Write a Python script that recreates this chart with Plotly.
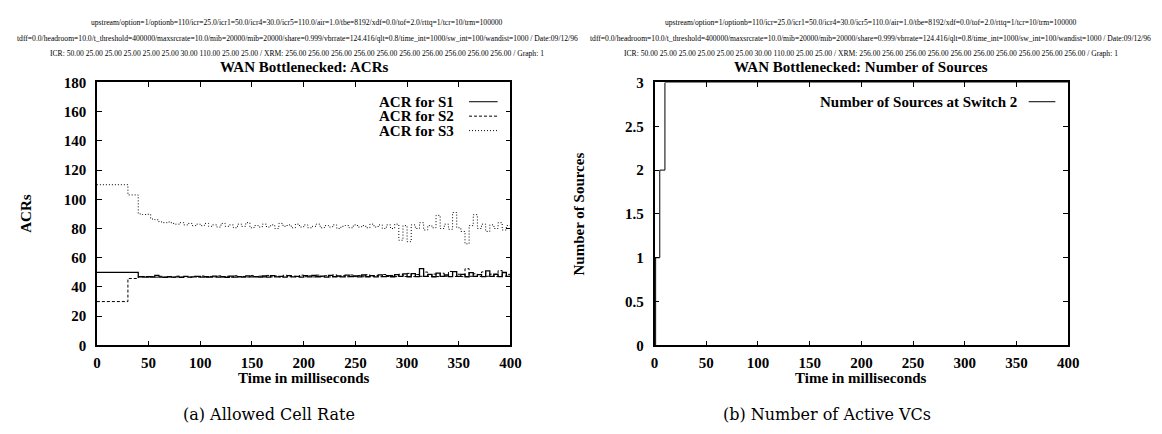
import plotly.graph_objects as go

W, H = 1162, 434

# ---------------- data ----------------
time_ms = [0, 30,
           40, 44, 48, 52, 56, 60, 64, 68, 72, 76,
           80, 84, 88, 92, 96, 100, 104, 108, 112, 116,
           120, 124, 128, 132, 136, 140, 144, 148, 152, 156,
           160, 164, 168, 172, 176, 180, 184, 188, 192, 196,
           200, 204, 208, 212, 216, 220, 224, 228, 232, 236,
           240, 244, 248, 252, 256, 260, 264, 268, 272, 276,
           280, 284, 288, 292, 296, 300, 304, 308, 312, 316,
           320, 324, 328, 332, 336, 340, 344, 348, 352, 356,
           360, 364, 368, 372, 376, 380, 384, 388, 392, 396,
           400]

acr_s1 = [50, 50,
          47, 46.8, 47, 46.7, 48, 46.8, 46.6, 47, 46.7, 46.9,
          46.6, 47.2, 46.7, 46.9, 47.3, 46.8, 47, 46.7, 47.4, 46.8,
          47, 46.6, 47.4, 46.8, 47.1, 46.7, 47.6, 46.9, 47.1, 46.7,
          47.5, 46.8, 47.7, 46.9, 47.2, 46.7, 47.8, 46.9, 47.3, 46.8,
          47.7, 46.9, 47.9, 47, 47.4, 46.8, 48, 47, 47.5, 46.9,
          48.1, 47.1, 47.6, 46.9, 48.2, 47, 47.7, 46.9, 48.3, 47.1,
          47.8, 47, 48.4, 47.2, 48.9, 47, 49.2, 47.1, 52.5, 47.2,
          48.6, 47, 49.5, 47.3, 48.2, 47.1, 50.5, 47.2, 48.6, 47,
          49.8, 47.3, 48.4, 47.1, 51, 47.2, 48.7, 47.1, 49.9, 47.3,
          48.2]

acr_s2 = [30, 45.8,
          47, 47.2, 46.8, 47.1, 46.7, 47.3, 46.8, 47, 46.6, 47.4,
          46.8, 47.1, 46.7, 47.3, 46.8, 47.5, 46.7, 47.2, 46.8, 47.6,
          46.9, 47.3, 46.7, 47.7, 46.9, 47.2, 46.8, 47.8, 46.9, 47.4,
          46.8, 47.9, 46.9, 47.5, 46.8, 48, 47, 47.4, 46.9, 48.1,
          47, 47.6, 46.9, 48.1, 47.1, 47.7, 46.9, 48.3, 47, 47.6,
          47, 48.2, 47.1, 47.8, 47, 48.4, 47.1, 47.8, 47, 48.5,
          47.2, 47.9, 47.1, 48.7, 47.2, 49.3, 47.1, 48.5, 47.3, 50.2,
          47.2, 48.8, 47.1, 49.4, 47.3, 50.6, 47.2, 48.7, 47.1, 52.5,
          47.3, 49, 47.2, 50.3, 47.3, 48.8, 47.2, 51.2, 47.4, 48.6,
          47.3]

acr_s3 = [110, 103,
          90, 89.6, 89.8, 86.5, 86, 84.5, 84, 84.5, 83.5, 83,
          84, 82.5, 83.5, 82, 83, 82, 83.5, 81.5, 82.5, 81,
          83.5, 81.5, 82.5, 80.5, 83, 81.5, 84, 80.5, 82, 81,
          83, 81, 82.5, 80, 83.5, 81.5, 82.5, 80.5, 83, 81,
          82.5, 80.5, 81.5, 83, 80.5, 82, 81, 82.5, 80, 81.5,
          82, 80.5, 82.5, 81, 82, 80.5, 83, 81, 82.5, 80,
          82.5, 80, 83, 72, 82, 71, 82.5, 80, 84, 79,
          82, 80.5, 89, 80, 83, 79.5, 91, 80.5, 78, 69.5,
          82, 89.5, 80, 83, 78, 82.5, 80, 84, 79, 82,
          80.5]

src_time = [0, 1, 5, 10, 400]
src_count = [0, 1, 2, 3, 3]

x_ticks = [0, 50, 100, 150, 200, 250, 300, 350, 400]

header1 = ("upstream/option=1/optionb=110/icr=25.0/icr1=50.0/icr4=30.0/icr5=110.0/air=1.0/"
           "tbe=8192/xdf=0.0/tof=2.0/rttq=1/tcr=10/trm=100000")
header2 = ("tdff=0.0/headroom=10.0/t_threshold=400000/maxsrcrate=10.0/mib=20000/mib=20000/"
           "share=0.999/vbrrate=124.416/qlt=0.8/time_int=1000/sw_int=100/wandist=1000 / Date:09/12/96")
header3 = ("ICR: 50.00 25.00 25.00 25.00 25.00 25.00 30.00 110.00 25.00 25.00 / XRM: 256.00 256.00 "
           "256.00 256.00 256.00 256.00 256.00 256.00 256.00 256.00 / Graph: 1")

# ---------------- layout helpers ----------------
def px(x):
    return x / W

def py(y):
    return 1 - y / H

SERIF = "Liberation Serif"
L_X0, L_X1 = 86, 505
R_X0, R_X1 = 651, 1070
Y_TOP, Y_BOT = 69, 342

fig = go.Figure()

fig.add_trace(go.Scatter(x=time_ms, y=acr_s1, mode="lines", line_shape="hv",
                         line=dict(color="black", width=1.3), name="ACR for S1",
                         xaxis="x", yaxis="y"))
fig.add_trace(go.Scatter(x=time_ms, y=acr_s2, mode="lines", line_shape="hv",
                         line=dict(color="black", width=1, dash="3px,2px"), name="ACR for S2",
                         xaxis="x", yaxis="y"))
fig.add_trace(go.Scatter(x=time_ms, y=acr_s3, mode="lines", line_shape="hv",
                         line=dict(color="black", width=1, dash="1px,2px"), name="ACR for S3",
                         xaxis="x", yaxis="y"))
fig.add_trace(go.Scatter(x=src_time, y=src_count, mode="lines", line_shape="hv",
                         line=dict(color="black", width=1), name="Number of Sources at Switch 2",
                         xaxis="x2", yaxis="y2"))

tickfont = dict(family=SERIF, size=15, color="black", weight="bold")
axis_common = dict(showline=True, linecolor="black", linewidth=1.5, mirror="allticks",
                   ticks="inside", ticklen=5, tickwidth=1, tickcolor="black",
                   showgrid=False, zeroline=False, tickfont=tickfont, fixedrange=True)

fig.update_layout(
    width=W, height=H,
    margin=dict(l=0, r=0, t=0, b=0),
    paper_bgcolor="white", plot_bgcolor="white",
    showlegend=False,
    xaxis=dict(domain=[px(L_X0), px(L_X1)], range=[0, 400], tickvals=x_ticks,
               anchor="y", ticklabelstandoff=3, **axis_common),
    yaxis=dict(domain=[py(Y_BOT), py(Y_TOP)], range=[0, 180], dtick=20,
               anchor="x", ticklabelstandoff=6, **axis_common),
    xaxis2=dict(domain=[px(R_X0), px(R_X1)], range=[0, 400], tickvals=x_ticks,
                anchor="y2", ticklabelstandoff=3, **axis_common),
    yaxis2=dict(domain=[py(Y_BOT), py(Y_TOP)], range=[0, 3], dtick=0.5,
                anchor="x2", ticklabelstandoff=6, **axis_common),
)

annotations = []

def text(x, y, s, size, bold=False, family=SERIF, xanchor="center", angle=0):
    annotations.append(dict(x=px(x), y=py(y), xref="paper", yref="paper", text=s,
                            showarrow=False, xanchor=xanchor, yanchor="middle", textangle=angle,
                            font=dict(family=family, size=size, color="black",
                                      weight="bold" if bold else "normal")))

# headers
for cx in (289, 870):
    text(cx, 7, header1, 7.6)
    text(cx, 23, header2, 7.6)
    text(cx, 39, header3, 7.6)

# titles
text((L_X0 + L_X1) / 2, 53, "WAN Bottlenecked: ACRs", 15, bold=True)
text((R_X0 + R_X1) / 2, 53, "WAN Bottlenecked: Number of Sources", 15, bold=True)

# axis titles
text((L_X0 + L_X1) / 2, 376, "Time in milliseconds", 15, bold=True)
text((R_X0 + R_X1) / 2, 376, "Time in milliseconds", 15, bold=True)
text(14, (Y_TOP + Y_BOT) / 2, "ACRs", 15, bold=True, angle=-90)
text(574, (Y_TOP + Y_BOT) / 2, "Number of Sources", 15, bold=True, angle=-90)

# captions
text(260, 414, "(a) Allowed Cell Rate", 16, family="DejaVu Serif")
text(826, 414, "(b) Number of Active VCs", 16, family="DejaVu Serif")

# legends (gnuplot style: text right, sample line to the right)
legend_rows = [("ACR for S1", 89, "solid"), ("ACR for S2", 104, "3px,2px"), ("ACR for S3", 119, "1px,2px")]
shapes = []
for label, yy, dash in legend_rows:
    text(450, yy, label, 15, bold=True, xanchor="right")
    shapes.append(dict(type="line", xref="paper", yref="paper",
                       x0=px(463), x1=px(492), y0=py(yy), y1=py(yy),
                       line=dict(color="black", width=1, dash=dash)))
text(1020, 89, "Number of Sources at Switch 2", 15, bold=True, xanchor="right")
shapes.append(dict(type="line", xref="paper", yref="paper",
                   x0=px(1030), x1=px(1057), y0=py(89), y1=py(89),
                   line=dict(color="black", width=1)))

fig.update_layout(annotations=annotations, shapes=shapes)

fig.write_html("out.html")
